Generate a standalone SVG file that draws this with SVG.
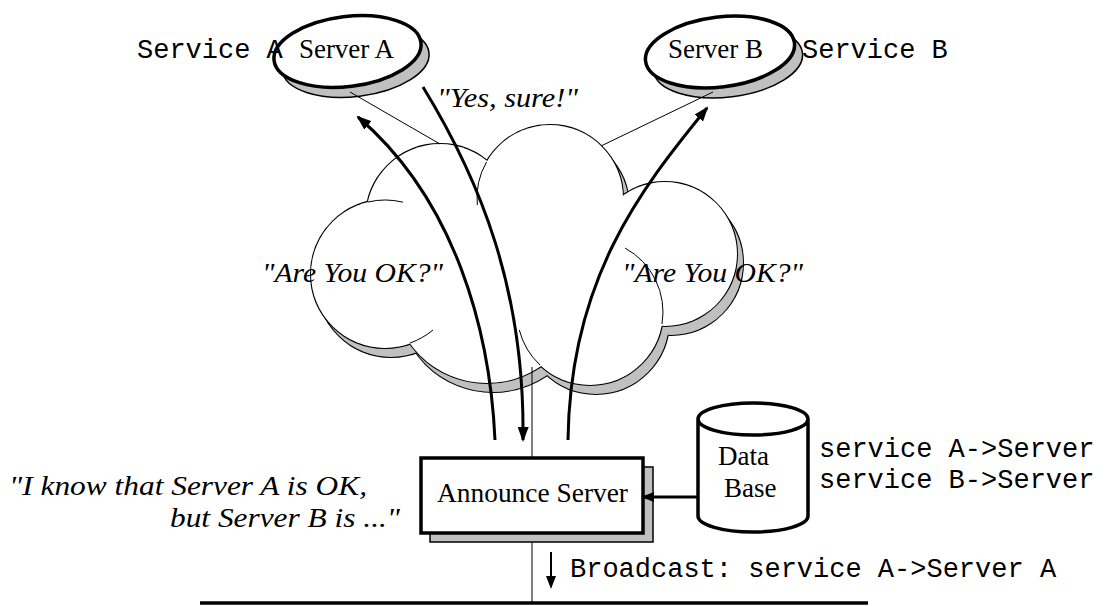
<svg xmlns="http://www.w3.org/2000/svg" xmlns:xlink="http://www.w3.org/1999/xlink" width="1106" height="606" viewBox="0 0 1106 606">
  <style>
    .serif { font-family: "Liberation Serif", "Times New Roman", serif; font-size: 27px; fill: #000; }
    .ital { font-family: "Liberation Serif", "Times New Roman", serif; font-style: italic; font-size: 27px; fill: #000; }
    .mono { font-family: "Liberation Mono", "Courier New", monospace; font-size: 27px; fill: #000; }
    .thin { fill: none; stroke: #000; stroke-width: 1; }
    .thick { fill: none; stroke: #000; stroke-width: 3; }
    .shadow { fill: #c0c0c0; stroke: #000; stroke-width: 1.5; }
    .body { fill: #fff; stroke: #000; stroke-width: 3.5; }
  </style>
  <defs>
    <!-- lumps of the network cloud -->
    <g id="lumps">
      <circle cx="385" cy="274" r="74"/>
      <circle cx="440" cy="218" r="74"/>
      <circle cx="550" cy="198" r="73"/>
      <circle cx="665" cy="254" r="72"/>
      <circle cx="590" cy="312" r="73"/>
      <circle cx="487" cy="288" r="95"/>
    </g>
    <marker id="head" markerUnits="userSpaceOnUse" markerWidth="15" markerHeight="11" refX="13" refY="5.5" orient="auto">
      <path d="M0,0 L15,5.5 L0,11 z" fill="#000"/>
    </marker>
    <marker id="headSmall" markerUnits="userSpaceOnUse" markerWidth="13" markerHeight="10" refX="11" refY="5" orient="auto">
      <path d="M0,0 L13,5 L0,10 z" fill="#000"/>
    </marker>
  </defs>

  <!-- network cloud with drop shadow -->
  <g id="node-network">
    <use xlink:href="#lumps" transform="translate(6,9)" fill="none" stroke="#000" stroke-width="2"/>
    <use xlink:href="#lumps" transform="translate(6,9)" fill="#c0c0c0" stroke="none"/>
    <use xlink:href="#lumps" fill="none" stroke="#000" stroke-width="2"/>
    <use xlink:href="#lumps" fill="#fff" stroke="none"/>
    <path class="thin" d="M368,202 A74,74 0 0 1 403,202.2"/>
    <path class="thin" d="M486.5,162 A73,73 0 0 0 477.3,205"/>
    <path class="thin" d="M625,248 A73,73 0 0 1 662,324"/>
    <path class="thin" d="M410,343 A74,74 0 0 0 433,330"/>
    <path class="thin" d="M540,365 A73,73 0 0 1 519.3,330"/>
  </g>

  <!-- bus line and its drop -->
  <g id="bus">
    <line class="thin" x1="532" y1="367" x2="532" y2="603"/>
    <line x1="200" y1="603" x2="868" y2="603" stroke="#000" stroke-width="3.5"/>
  </g>

  <g id="node-server-a">
    <ellipse class="shadow" cx="355.5" cy="61.5" rx="74" ry="35" transform="rotate(-7 355.5 61.5)"/>
    <ellipse class="body" cx="347.5" cy="51.5" rx="74" ry="35" transform="rotate(-7 347.5 51.5)"/>
    <text class="serif" x="346.5" y="58" text-anchor="middle">Server A</text>
  </g>

  <g id="node-server-b">
    <ellipse class="shadow" cx="728" cy="62" rx="75" ry="35" transform="rotate(-7 728 62)"/>
    <ellipse class="body" cx="720" cy="52" rx="75" ry="35" transform="rotate(-7 720 52)"/>
    <text class="serif" x="715.5" y="58" text-anchor="middle">Server B</text>
  </g>

  <g id="node-announce">
    <rect class="shadow" x="430" y="467" width="223" height="75"/>
    <rect class="body" x="421" y="458" width="222" height="75"/>
    <text class="serif" x="437" y="502" textLength="191" lengthAdjust="spacingAndGlyphs">Announce Server</text>
  </g>

  <g id="node-database">
    <path class="body" d="M698,419 L698,516 A55,16 0 0 0 808,516 L808,419 A55,16 0 0 0 698,419 A55,16 0 0 0 808,419"/>
    <text class="serif" x="718" y="465">Data</text>
    <text class="serif" x="724" y="497">Base</text>
  </g>

  <g id="connectors">
    <line class="thin" x1="350" y1="92" x2="440" y2="144"/>
    <line class="thin" x1="713" y1="92" x2="601" y2="146"/>
    <path class="thick" d="M495,440 C490,330 455,200 358,117" marker-end="url(#head)"/>
    <path class="thick" d="M423,87 C480,180 525,290 523,440" marker-end="url(#head)"/>
    <path class="thick" d="M568,440 C570,280 640,190 707,108" marker-end="url(#head)"/>
    <line x1="698" y1="497" x2="643" y2="497" stroke="#000" stroke-width="3" marker-end="url(#headSmall)"/>
    <line x1="551" y1="552" x2="551" y2="587" stroke="#000" stroke-width="2" marker-end="url(#headSmall)"/>
  </g>

  <g id="labels">
    <text class="mono" x="137" y="58">Service A</text>
    <text class="mono" x="802" y="58">Service B</text>
    <text class="ital" x="437" y="107" textLength="141" lengthAdjust="spacingAndGlyphs">"Yes, sure!"</text>
    <text class="ital" x="262" y="282" textLength="181" lengthAdjust="spacingAndGlyphs">"Are You OK?"</text>
    <text class="ital" x="622" y="282" textLength="181" lengthAdjust="spacingAndGlyphs">"Are You OK?"</text>
    <text class="ital" x="9" y="495" textLength="358" lengthAdjust="spacingAndGlyphs">"I know that Server A is OK,</text>
    <text class="ital" x="170" y="527" textLength="230" lengthAdjust="spacingAndGlyphs">but Server B is ..."</text>
    <text class="mono" x="819" y="457">service A-&gt;Server</text>
    <text class="mono" x="819" y="488">service B-&gt;Server</text>
    <text class="mono" x="570" y="577">Broadcast: service A-&gt;Server A</text>
  </g>
</svg>
